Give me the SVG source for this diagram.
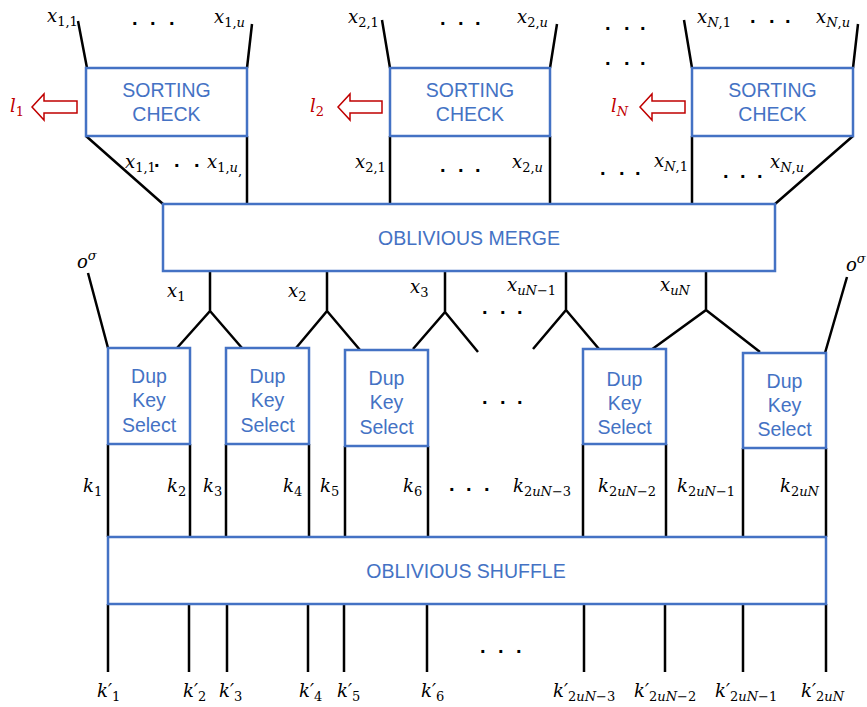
<svg xmlns="http://www.w3.org/2000/svg" width="867" height="707" viewBox="0 0 867 707">
<style>
.box{fill:#fff;stroke:#4472C4;stroke-width:2.5}
.bt{font-family:"Liberation Sans",Arial,sans-serif;font-size:19.5px;fill:#4472C4;text-anchor:middle}
.w{stroke:#000;stroke-width:2.5;fill:none;stroke-linecap:butt}
.m{font-family:"DejaVu Serif","Liberation Serif",serif;font-style:italic;font-size:18px;fill:#000}
.s{font-size:13px;font-style:normal}
.si{font-size:13px}
.d{font-family:"Liberation Sans",Arial,sans-serif;font-weight:bold;font-size:20px;fill:#000}
.r{fill:#fff;stroke:#C00000;stroke-width:1.5}
.rt{font-family:"DejaVu Serif","Liberation Serif",serif;font-style:italic;font-size:18px;fill:#C00000}
</style>
<g id="connectors">
<path class="w" d="M78,21 L87,68 M252,24 L247,68 M382,20 L390,68 M557,24 L550,68 M684,20 L692,68 M858,24 L853,68"/>
<path class="w" d="M86,136 L163,204 M247,136 L247,204 M390,136 L390,204 M550,136 L550,204 M692,136 L692,204 M853,136 L775,204"/>
<path class="w" d="M210,272 L210,311 L177,348 M210,311 L242,348 M327,272 L327,311 L296,348 M327,311 L360,350 M445,272 L445,312 L413,349 M445,312 L478,352 M566,272 L566,310 L533,349 M566,310 L599,349 M706,272 L706,310 L651,350 M706,310 L760,352"/>
<path class="w" d="M88,273 L108,348 M847,277 L825,353"/>
<path class="w" d="M108,444 L108,537 M190,444 L190,537 M226,444 L226,537 M309,444 L309,537 M345,446 L345,537 M428,446 L428,537 M583,444 L583,537 M666,444 L666,537 M743,448 L743,537 M826,448 L826,537"/>
<path class="w" d="M108,604 L108,672 M189,604 L189,672 M227,604 L227,672 M308,604 L308,672 M344,604 L344,672 M427,604 L427,672 M584,604 L584,672 M665,604 L665,672 M743,604 L743,672 M826,604 L826,672"/>
</g>
<g id="sort1">
<rect class="box" x="86" y="68" width="161" height="68"/>
<text class="bt" x="166.5" y="97">SORTING</text>
<text class="bt" x="166.5" y="121">CHECK</text>
</g>
<g id="sort2">
<rect class="box" x="390" y="68" width="160" height="68"/>
<text class="bt" x="470" y="97">SORTING</text>
<text class="bt" x="470" y="121">CHECK</text>
</g>
<g id="sortN">
<rect class="box" x="692" y="68" width="161" height="68"/>
<text class="bt" x="772.5" y="97">SORTING</text>
<text class="bt" x="772.5" y="121">CHECK</text>
</g>
<g id="out1">
<polygon class="r" points="32,107 44,94 44,101 77,101 77,113 44,113 44,120"/>
<text class="rt" x="10" y="112">l<tspan class="s" dy="4">1</tspan></text>
</g>
<g id="out2">
<polygon class="r" points="338,107 350,94 350,101 382,101 382,113 350,113 350,120"/>
<text class="rt" x="310" y="112">l<tspan class="s" dy="4">2</tspan></text>
</g>
<g id="outN">
<polygon class="r" points="640,107 652,94 652,101 685,101 685,113 652,113 652,120"/>
<text class="rt" x="611" y="112">l<tspan class="si" dy="4">N</tspan></text>
</g>
<g id="merge">
<rect class="box" x="163" y="204" width="612" height="67"/>
<text class="bt" x="469" y="245">OBLIVIOUS MERGE</text>
</g>
<g id="dup1">
<rect class="box" x="108" y="348" width="82" height="96"/>
<text class="bt" x="149" y="383">Dup</text><text class="bt" x="149" y="407">Key</text><text class="bt" x="149" y="432">Select</text>
</g>
<g id="dup2">
<rect class="box" x="226" y="348" width="83" height="96"/>
<text class="bt" x="267.5" y="383">Dup</text><text class="bt" x="267.5" y="407">Key</text><text class="bt" x="267.5" y="432">Select</text>
</g>
<g id="dup3">
<rect class="box" x="345" y="350" width="83" height="96"/>
<text class="bt" x="386.5" y="385">Dup</text><text class="bt" x="386.5" y="409">Key</text><text class="bt" x="386.5" y="434">Select</text>
</g>
<g id="dup4">
<rect class="box" x="583" y="349" width="83" height="95"/>
<text class="bt" x="624.5" y="386">Dup</text><text class="bt" x="624.5" y="410">Key</text><text class="bt" x="624.5" y="434">Select</text>
</g>
<g id="dup5">
<rect class="box" x="743" y="353" width="83" height="95"/>
<text class="bt" x="784.5" y="388">Dup</text><text class="bt" x="784.5" y="412">Key</text><text class="bt" x="784.5" y="436">Select</text>
</g>
<g id="shuffle">
<rect class="box" x="108" y="537" width="718" height="67"/>
<text class="bt" x="466" y="578">OBLIVIOUS SHUFFLE</text>
</g>
<g id="labels">
<text class="m" x="47" y="22">x<tspan class="s" dy="4">1,1</tspan></text>
<text class="m" x="214" y="23">x<tspan class="s" dy="4">1,</tspan><tspan class="si">u</tspan></text>
<text class="m" x="348" y="23">x<tspan class="s" dy="4">2,1</tspan></text>
<text class="m" x="517" y="23">x<tspan class="s" dy="4">2,</tspan><tspan class="si">u</tspan></text>
<text class="m" x="697" y="23">x<tspan class="si" dy="4">N</tspan><tspan class="s">,1</tspan></text>
<text class="m" x="816" y="23">x<tspan class="si" dy="4">N</tspan><tspan class="s">,</tspan><tspan class="si">u</tspan></text>
<text class="m" x="125" y="168">x<tspan class="s" dy="4">1,1</tspan></text>
<text class="m" x="207" y="168">x<tspan class="s" dy="4">1,</tspan><tspan class="si">u</tspan><tspan class="s" font-size="9" dy="3">,</tspan></text>
<text class="m" x="355" y="168">x<tspan class="s" dy="4">2,1</tspan></text>
<text class="m" x="512" y="168">x<tspan class="s" dy="4">2,</tspan><tspan class="si">u</tspan></text>
<text class="m" x="654" y="167">x<tspan class="si" dy="4">N</tspan><tspan class="s">,1</tspan></text>
<text class="m" x="770" y="168">x<tspan class="si" dy="4">N</tspan><tspan class="s">,</tspan><tspan class="si">u</tspan></text>
<text class="m" x="167" y="297">x<tspan class="s" dy="4">1</tspan></text>
<text class="m" x="288" y="297">x<tspan class="s" dy="4">2</tspan></text>
<text class="m" x="410" y="293">x<tspan class="s" dy="4">3</tspan></text>
<text class="m" x="507" y="291">x<tspan class="si" dy="4">uN</tspan><tspan class="s">−1</tspan></text>
<text class="m" x="660" y="291">x<tspan class="si" dy="4">uN</tspan></text>
<text class="m" x="77" y="268">o<tspan class="si" dy="-8">σ</tspan></text>
<text class="m" x="846" y="271">o<tspan class="si" dy="-8">σ</tspan></text>
<text class="m" x="83" y="492">k<tspan class="s" dy="4">1</tspan></text>
<text class="m" x="167" y="492">k<tspan class="s" dy="4">2</tspan></text>
<text class="m" x="203" y="492">k<tspan class="s" dy="4">3</tspan></text>
<text class="m" x="283" y="492">k<tspan class="s" dy="4">4</tspan></text>
<text class="m" x="320" y="492">k<tspan class="s" dy="4">5</tspan></text>
<text class="m" x="403" y="492">k<tspan class="s" dy="4">6</tspan></text>
<text class="m" x="513" y="492">k<tspan class="s" dy="4">2</tspan><tspan class="si">uN</tspan><tspan class="s">−3</tspan></text>
<text class="m" x="598" y="492">k<tspan class="s" dy="4">2</tspan><tspan class="si">uN</tspan><tspan class="s">−2</tspan></text>
<text class="m" x="677" y="492">k<tspan class="s" dy="4">2</tspan><tspan class="si">uN</tspan><tspan class="s">−1</tspan></text>
<text class="m" x="780" y="492">k<tspan class="s" dy="4">2</tspan><tspan class="si">uN</tspan></text>
<text class="m" x="97" y="697">k′<tspan class="s" dy="4">1</tspan></text>
<text class="m" x="183" y="697">k′<tspan class="s" dy="4">2</tspan></text>
<text class="m" x="219" y="697">k′<tspan class="s" dy="4">3</tspan></text>
<text class="m" x="299" y="697">k′<tspan class="s" dy="4">4</tspan></text>
<text class="m" x="337" y="697">k′<tspan class="s" dy="4">5</tspan></text>
<text class="m" x="421" y="697">k′<tspan class="s" dy="4">6</tspan></text>
<text class="m" x="553" y="697">k′<tspan class="s" dy="4">2</tspan><tspan class="si">uN</tspan><tspan class="s">−3</tspan></text>
<text class="m" x="634" y="697">k′<tspan class="s" dy="4">2</tspan><tspan class="si">uN</tspan><tspan class="s">−2</tspan></text>
<text class="m" x="715" y="697">k′<tspan class="s" dy="4">2</tspan><tspan class="si">uN</tspan><tspan class="s">−1</tspan></text>
<text class="m" x="801" y="697">k′<tspan class="s" dy="4">2</tspan><tspan class="si">uN</tspan></text>
</g>
<g id="dots">
<text class="d" x="132 150 169" y="25">...</text>
<text class="d" x="440 458 475" y="25">...</text>
<text class="d" x="605 624 640" y="30">...</text>
<text class="d" x="605 624 640" y="65">...</text>
<text class="d" x="750 769 785" y="23">...</text>
<text class="d" x="154 174 194" y="167">...</text>
<text class="d" x="440 458 475" y="172">...</text>
<text class="d" x="600 619 635" y="175">...</text>
<text class="d" x="723 740 757" y="178">...</text>
<text class="d" x="482 500 517" y="314">...</text>
<text class="d" x="482 500 517" y="404">...</text>
<text class="d" x="449 466 484" y="491">...</text>
<text class="d" x="480 498 516" y="653">...</text>
</g>
</svg>
